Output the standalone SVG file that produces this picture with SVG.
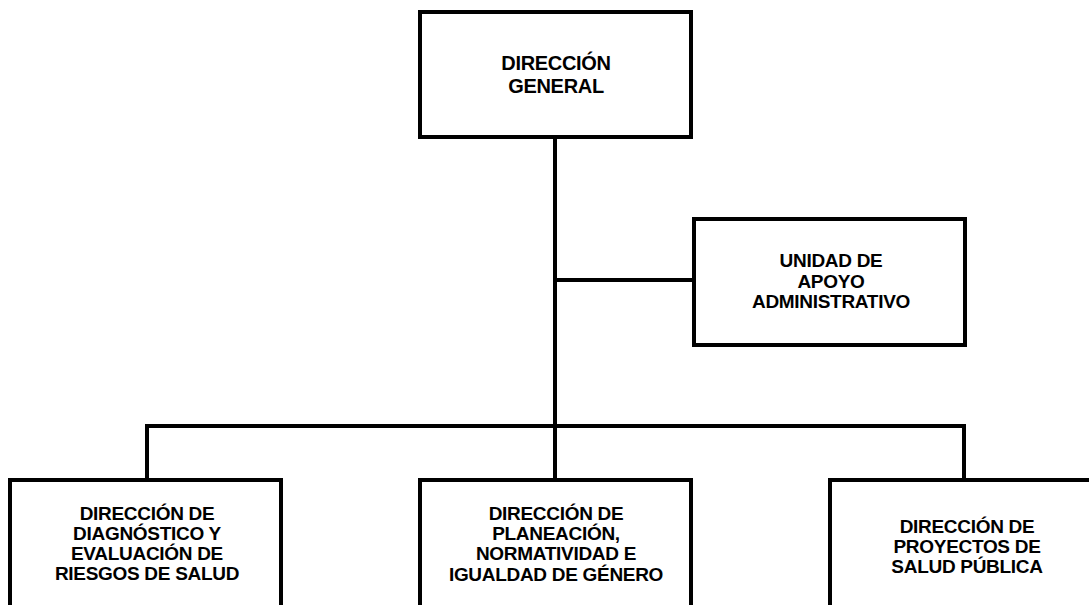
<svg xmlns="http://www.w3.org/2000/svg" width="1089" height="605" viewBox="0 0 1089 605">
<style>
.box{fill:#fff;stroke:#000;stroke-width:4}
.ln{fill:none;stroke:#000;stroke-width:4;stroke-linejoin:miter}
.t{font-family:"Liberation Sans",Arial,sans-serif;font-weight:bold;font-size:19px;letter-spacing:-0.3px;fill:#000;text-anchor:middle}
.big{font-size:20px}
</style>
<rect width="1089" height="605" fill="#fff"/>
<g id="connectors">
<path class="ln" d="M555,139 V480"/>
<path class="ln" d="M555,280 H694"/>
<path class="ln" d="M147,480 V426 H964 V480"/>
</g>
<g id="direccion-general">
<rect class="box" x="420" y="12" width="271" height="125"/>
<text class="t big" x="556" y="70">DIRECCIÓN</text>
<text class="t big" x="556" y="93">GENERAL</text>
</g>
<g id="unidad-apoyo">
<rect class="box" x="694" y="219" width="271" height="126"/>
<text class="t" x="831" y="267">UNIDAD DE</text>
<text class="t" x="831" y="288">APOYO</text>
<text class="t" x="831" y="308">ADMINISTRATIVO</text>
</g>
<g id="direccion-diagnostico">
<rect class="box" x="10" y="480" width="271" height="140"/>
<text class="t" x="147" y="520">DIRECCIÓN DE</text>
<text class="t" x="147" y="540">DIAGNÓSTICO Y</text>
<text class="t" x="147" y="560">EVALUACIÓN DE</text>
<text class="t" x="147" y="580">RIESGOS DE SALUD</text>
</g>
<g id="direccion-planeacion">
<rect class="box" x="420" y="480" width="271" height="140"/>
<text class="t" x="556" y="520">DIRECCIÓN DE</text>
<text class="t" x="556" y="540">PLANEACIÓN,</text>
<text class="t" x="556" y="560">NORMATIVIDAD E</text>
<text class="t" x="556" y="581">IGUALDAD DE GÉNERO</text>
</g>
<g id="direccion-proyectos">
<rect class="box" x="830" y="480" width="271" height="140"/>
<text class="t" x="967" y="533">DIRECCIÓN DE</text>
<text class="t" x="967" y="553">PROYECTOS DE</text>
<text class="t" x="967" y="573">SALUD PÚBLICA</text>
</g>
</svg>
